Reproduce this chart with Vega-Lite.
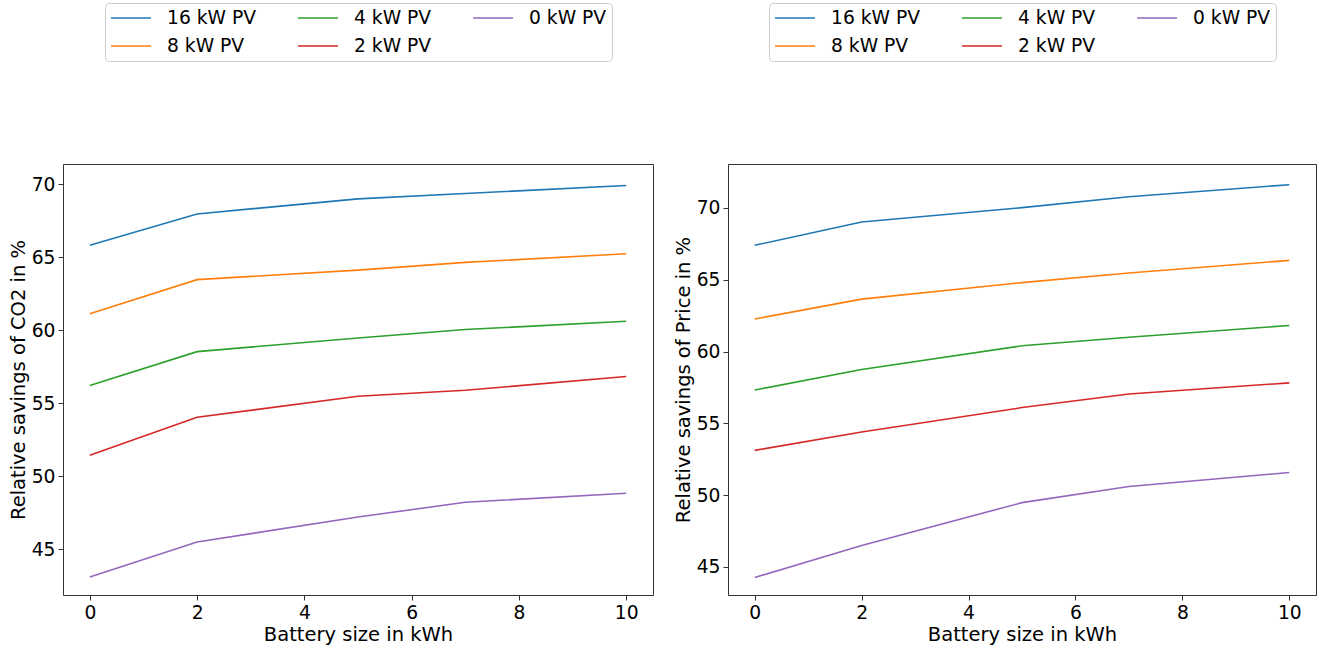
{
  "$schema": "https://vega.github.io/schema/vega-lite/v6.json",
  "padding": {"left": 7, "top": 2, "right": 0, "bottom": 0},
  "background": "white",
  "config": {
    "font": "DejaVu Sans",
    "view": {"stroke": "#333333", "strokeWidth": 1},
    "concat": {"spacing": 18},
    "axis": {
      "domain": false,
      "grid": false,
      "ticks": true,
      "tickSize": 5,
      "tickColor": "#333333",
      "labelFont": "DejaVu Sans",
      "labelFontSize": 18.7,
      "labelColor": "#000000",
      "labelPadding": 3,
      "titleFont": "DejaVu Sans",
      "titleFontSize": 19.5,
      "titleFontWeight": "normal",
      "titleColor": "#000000"
    },
    "legend": {
      "orient": "none",
      "title": null,
      "columns": 3,
      "symbolType": "stroke",
      "symbolSize": 1600,
      "symbolStrokeWidth": 1.6,
      "labelOffset": 15,
      "columnPadding": 40,
      "rowPadding": 8,
      "clipHeight": 20,
      "labelFont": "DejaVu Sans",
      "labelFontSize": 18.7,
      "labelColor": "#000000",
      "fillColor": "white",
      "strokeColor": "#cccccc",
      "cornerRadius": 4,
      "padding": 5
    }
  },
  "datasets": {
    "co2": [
      {"pv": "16 kW PV", "battery": 0, "value": 65.8},
      {"pv": "16 kW PV", "battery": 2, "value": 67.95},
      {"pv": "16 kW PV", "battery": 5, "value": 68.98},
      {"pv": "16 kW PV", "battery": 7, "value": 69.35},
      {"pv": "16 kW PV", "battery": 10, "value": 69.9},
      {"pv": "8 kW PV", "battery": 0, "value": 61.12},
      {"pv": "8 kW PV", "battery": 2, "value": 63.45},
      {"pv": "8 kW PV", "battery": 5, "value": 64.1},
      {"pv": "8 kW PV", "battery": 7, "value": 64.63},
      {"pv": "8 kW PV", "battery": 10, "value": 65.22},
      {"pv": "4 kW PV", "battery": 0, "value": 56.2},
      {"pv": "4 kW PV", "battery": 2, "value": 58.52},
      {"pv": "4 kW PV", "battery": 5, "value": 59.45},
      {"pv": "4 kW PV", "battery": 7, "value": 60.03},
      {"pv": "4 kW PV", "battery": 10, "value": 60.6},
      {"pv": "2 kW PV", "battery": 0, "value": 51.42},
      {"pv": "2 kW PV", "battery": 2, "value": 54.02},
      {"pv": "2 kW PV", "battery": 5, "value": 55.46},
      {"pv": "2 kW PV", "battery": 7, "value": 55.87},
      {"pv": "2 kW PV", "battery": 10, "value": 56.82},
      {"pv": "0 kW PV", "battery": 0, "value": 43.08},
      {"pv": "0 kW PV", "battery": 2, "value": 45.48},
      {"pv": "0 kW PV", "battery": 5, "value": 47.19},
      {"pv": "0 kW PV", "battery": 7, "value": 48.2},
      {"pv": "0 kW PV", "battery": 10, "value": 48.82}
    ],
    "price": [
      {"pv": "16 kW PV", "battery": 0, "value": 67.4},
      {"pv": "16 kW PV", "battery": 2, "value": 69.02},
      {"pv": "16 kW PV", "battery": 5, "value": 70.02},
      {"pv": "16 kW PV", "battery": 7, "value": 70.78},
      {"pv": "16 kW PV", "battery": 10, "value": 71.62},
      {"pv": "8 kW PV", "battery": 0, "value": 62.27},
      {"pv": "8 kW PV", "battery": 2, "value": 63.65},
      {"pv": "8 kW PV", "battery": 5, "value": 64.8},
      {"pv": "8 kW PV", "battery": 7, "value": 65.47},
      {"pv": "8 kW PV", "battery": 10, "value": 66.35},
      {"pv": "4 kW PV", "battery": 0, "value": 57.32},
      {"pv": "4 kW PV", "battery": 2, "value": 58.75},
      {"pv": "4 kW PV", "battery": 5, "value": 60.4},
      {"pv": "4 kW PV", "battery": 7, "value": 61.0},
      {"pv": "4 kW PV", "battery": 10, "value": 61.82},
      {"pv": "2 kW PV", "battery": 0, "value": 53.12},
      {"pv": "2 kW PV", "battery": 2, "value": 54.4},
      {"pv": "2 kW PV", "battery": 5, "value": 56.1},
      {"pv": "2 kW PV", "battery": 7, "value": 57.05},
      {"pv": "2 kW PV", "battery": 10, "value": 57.82},
      {"pv": "0 kW PV", "battery": 0, "value": 44.27},
      {"pv": "0 kW PV", "battery": 2, "value": 46.5},
      {"pv": "0 kW PV", "battery": 5, "value": 49.48},
      {"pv": "0 kW PV", "battery": 7, "value": 50.6},
      {"pv": "0 kW PV", "battery": 10, "value": 51.58}
    ]
  },
  "resolve": {"scale": {"color": "independent", "y": "independent"}, "legend": {"color": "independent"}},
  "hconcat": [
    {
      "width": 590,
      "height": 431,
      "data": {"name": "co2"},
      "mark": {"type": "line", "strokeWidth": 1.6},
      "encoding": {
        "x": {
          "field": "battery", "type": "quantitative",
          "scale": {"domain": [-0.5, 10.5], "nice": false, "zero": false},
          "axis": {"values": [0, 2, 4, 6, 8, 10], "title": "Battery size in kWh", "titlePadding": 4}
        },
        "y": {
          "field": "value", "type": "quantitative",
          "scale": {"domain": [41.85, 71.37], "nice": false, "zero": false},
          "axis": {"values": [45, 50, 55, 60, 65, 70], "title": "Relative savings of CO2 in %", "titlePadding": 3}
        },
        "color": {
          "field": "pv", "type": "nominal",
          "scale": {
            "domain": ["16 kW PV", "8 kW PV", "4 kW PV", "2 kW PV", "0 kW PV"],
            "range": ["#1f77b4", "#ff7f0e", "#2ca02c", "#d62728", "#9467bd"]
          },
          "legend": {"legendX": 42, "legendY": -161}
        }
      }
    },
    {
      "width": 588,
      "height": 431,
      "data": {"name": "price"},
      "mark": {"type": "line", "strokeWidth": 1.6},
      "encoding": {
        "x": {
          "field": "battery", "type": "quantitative",
          "scale": {"domain": [-0.5, 10.5], "nice": false, "zero": false},
          "axis": {"values": [0, 2, 4, 6, 8, 10], "title": "Battery size in kWh", "titlePadding": 4}
        },
        "y": {
          "field": "value", "type": "quantitative",
          "scale": {"domain": [43.05, 73.06], "nice": false, "zero": false},
          "axis": {"values": [45, 50, 55, 60, 65, 70], "title": "Relative savings of Price in %", "titlePadding": 3}
        },
        "color": {
          "field": "pv", "type": "nominal",
          "scale": {
            "domain": ["16 kW PV", "8 kW PV", "4 kW PV", "2 kW PV", "0 kW PV"],
            "range": ["#1f77b4", "#ff7f0e", "#2ca02c", "#d62728", "#9467bd"]
          },
          "legend": {"legendX": 41, "legendY": -161}
        }
      }
    }
  ]
}
